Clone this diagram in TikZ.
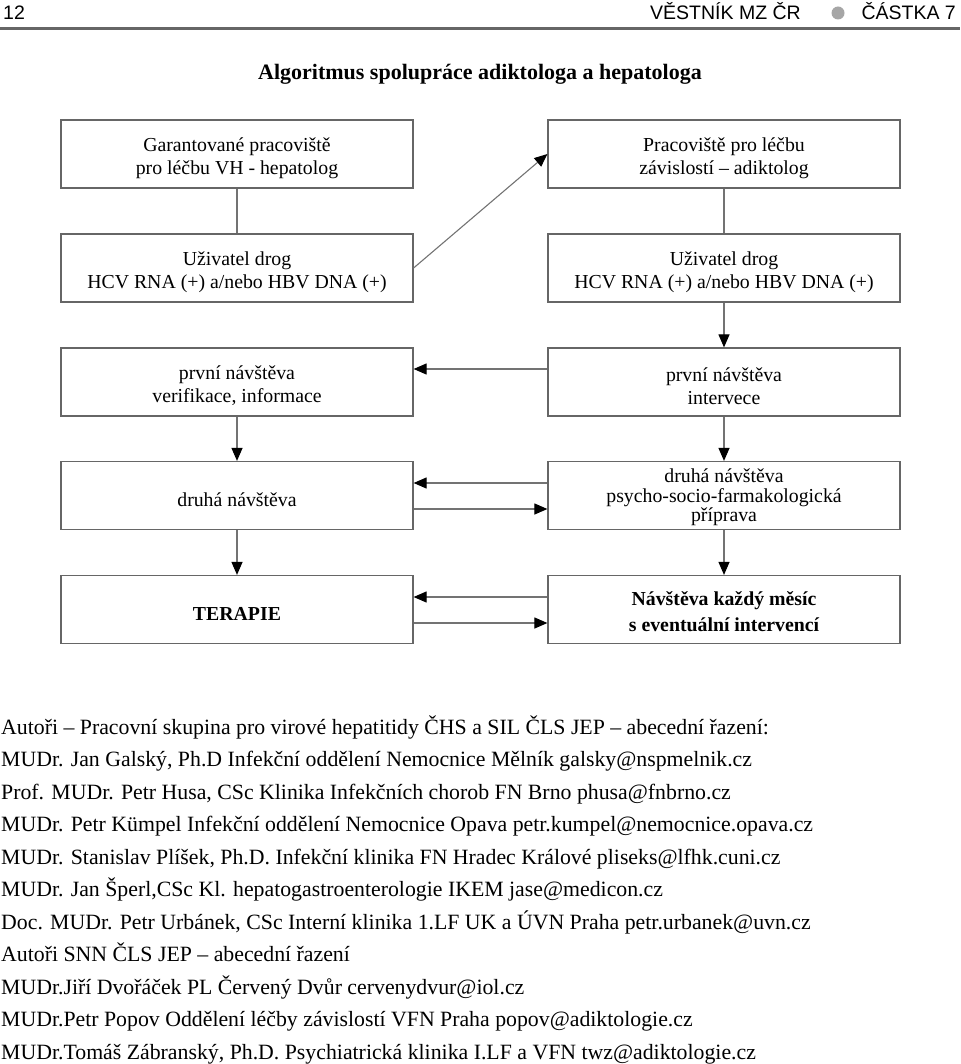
\documentclass[tikz,border=0pt]{standalone}
\usepackage{fontspec}
\setmainfont{Liberation Serif}
\newfontfamily\hdrfont{Liberation Sans}
\usetikzlibrary{arrows.meta}
\begin{document}
\begin{tikzpicture}[x=1pt,y=-1pt,
  box/.style={draw=black!60, line width=1.2pt, minimum width=352pt, minimum height=68pt,
    inner sep=0pt},
  lbl/.style={align=center, inner sep=0pt, yshift=-4pt, font=\fontsize{19.8}{23}\selectfont},
  blbl/.style={lbl, font=\bfseries\fontsize{19.8}{26}\selectfont},
  link/.style={draw=black!55, line width=1.1pt},
  arr/.style={link, -{Triangle[length=13pt,width=11pt,black]}},
  author/.style={anchor=base west, inner sep=0pt, font=\fontsize{21.8}{24}\selectfont}]
\useasboundingbox (0,0) rectangle (960,1064);
% header
\node[anchor=base west, inner sep=0pt, font=\hdrfont\fontsize{19.5}{22}\selectfont] (pg) at (3,20) {12};
\node[anchor=base east, inner sep=0pt, font=\hdrfont\fontsize{19.5}{22}\selectfont] (cast) at (956,20) {ČÁSTKA 7};
\node[anchor=base east, inner sep=0pt, font=\hdrfont\fontsize{19.5}{22}\selectfont] (vest) at (801,20) {VĚSTNÍK MZ ČR};
\fill[black!35] (838,13) circle (6.5);
\draw[black!60, line width=3pt] (0,29) -- (960,29);
% title
\node[inner sep=0pt, font=\bfseries\fontsize{22}{26}\selectfont] (title) at (480,74) {Algoritmus spolupráce adiktologa a hepatologa};
% boxes
\node[box, label={[lbl]center:{Garantované pracoviště\\pro léčbu VH - hepatolog}}] (b1) at (237,154) {};
\node[box, label={[lbl]center:{Pracoviště pro léčbu\\závislostí – adiktolog}}] (b2) at (724,154) {};
\node[box, label={[lbl]center:{Uživatel drog\\HCV RNA (+) a/nebo HBV DNA (+)}}] (b3) at (237,268) {};
\node[box, label={[lbl]center:{Uživatel drog\\HCV RNA (+) a/nebo HBV DNA (+)}}] (b4) at (724,268) {};
\node[box, label={[lbl]center:{první návštěva\\verifikace, informace}}] (b5) at (237,382) {};
\node[box, label={[lbl]center:{první návštěva\\intervece}}] (b6) at (724,382) {};
\node[box, label={[lbl]center:{druhá návštěva}}] (b7) at (237,495.5) {};
\node[box, label={[lbl, font=\fontsize{19.8}{19.5}\selectfont, yshift=2pt]center:{druhá návštěva\\psycho-socio-farmakologická\\příprava}}] (b8) at (724,495.5) {};
\node[box, label={[blbl]center:{TERAPIE}}] (b9) at (237,609.5) {};
\node[box, label={[blbl, yshift=2pt]center:{Návštěva každý měsíc\\s eventuální intervencí}}] (b10) at (724,609.5) {};
% connectors
\draw[link] (b1.south) -- (b3.north);
\draw[link] (b2.south) -- (b4.north);
\draw[arr] (b3.east) -- (b2.west);
\draw[arr] (b4.south) -- (b6.north);
\draw[arr] ([yshift=13pt]b6.west) -- ([yshift=13pt]b5.east);
\draw[arr] (b5.south) -- (b7.north);
\draw[arr] (b6.south) -- (b8.north);
\draw[arr] ([yshift=12.5pt]b8.west) -- ([yshift=12.5pt]b7.east);
\draw[arr] ([yshift=-13.5pt]b7.east) -- ([yshift=-13.5pt]b8.west);
\draw[arr] (b7.south) -- (b9.north);
\draw[arr] (b8.south) -- (b10.north);
\draw[arr] ([yshift=12.5pt]b10.west) -- ([yshift=12.5pt]b9.east);
\draw[arr] ([yshift=-13.5pt]b9.east) -- ([yshift=-13.5pt]b10.west);
% authors
\node[author] (a1) at (1,734) {Autoři – Pracovní skupina pro virové hepatitidy ČHS a SIL ČLS JEP – abecední řazení:};
\node[author] (a2) at (1,766.5) {MUDr. Jan Galský, Ph.D Infekční oddělení Nemocnice Mělník galsky@nspmelnik.cz};
\node[author] (a3) at (1,799) {Prof. MUDr. Petr Husa, CSc Klinika Infekčních chorob FN Brno phusa@fnbrno.cz};
\node[author] (a4) at (1,831.5) {MUDr. Petr Kümpel Infekční oddělení Nemocnice Opava petr.kumpel@nemocnice.opava.cz};
\node[author] (a5) at (1,864) {MUDr. Stanislav Plíšek, Ph.D. Infekční klinika FN Hradec Králové pliseks@lfhk.cuni.cz};
\node[author] (a6) at (1,896.5) {MUDr. Jan Šperl,CSc Kl. hepatogastroenterologie IKEM jase@medicon.cz};
\node[author] (a7) at (1,929) {Doc. MUDr. Petr Urbánek, CSc Interní klinika 1.LF UK a ÚVN Praha petr.urbanek@uvn.cz};
\node[author] (a8) at (1,961.5) {Autoři SNN ČLS JEP – abecední řazení};
\node[author] (a9) at (1,994) {MUDr.Jiří Dvořáček PL Červený Dvůr cervenydvur@iol.cz};
\node[author] (a10) at (1,1026.5) {MUDr.Petr Popov Oddělení léčby závislostí VFN Praha popov@adiktologie.cz};
\node[author] (a11) at (1,1059) {MUDr.Tomáš Zábranský, Ph.D. Psychiatrická klinika I.LF a VFN twz@adiktologie.cz};
\end{tikzpicture}
\end{document}
